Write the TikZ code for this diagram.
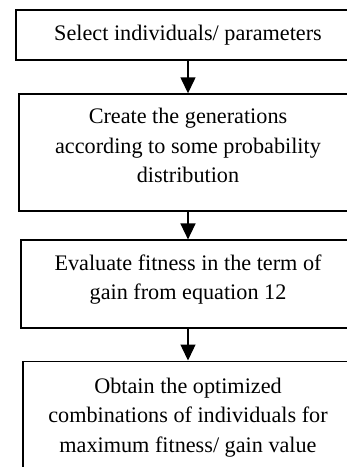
\documentclass[tikz,border=0pt]{standalone}
\usepackage{fontspec}
\setmainfont{Liberation Serif}
\usetikzlibrary{matrix,arrows.meta}

\tikzset{
  stepbox/.style={draw, line width=1.6pt, align=center, inner sep=0pt,
    font=\fontsize{22.2}{29.5}\selectfont},
  flowarrow/.style={-{Triangle[length=16pt,width=15pt]}, line width=1.4pt}
}

\begin{document}
\begin{tikzpicture}[x=1pt,y=-1pt]
      \useasboundingbox (0,0) rectangle (347,467);
      \clip (0,0) rectangle (347,467);
      \matrix (m) [inner sep=0pt, anchor=north] at (188,9)
      { \node[stepbox, minimum width=344pt, minimum height=50pt] (sel) {Select individuals/ parameters}; \\[32.5pt]
        \node[stepbox, minimum width=338pt, minimum height=117pt, text depth=14pt] (gen) {Create the generations\\according to some probability\\distribution}; \\[27.5pt]
        \node[stepbox, minimum width=334pt, minimum height=88pt, text depth=14pt] (fit) {Evaluate fitness in the term of\\gain from equation 12}; \\[31.5pt]
        \node[stepbox, minimum width=330pt, minimum height=112pt] (opt) {Obtain the optimized\\combinations of individuals for\\maximum fitness/ gain value}; \\};
      \path[flowarrow] (sel) edge (gen);
      \path[flowarrow] (gen) edge (fit);
      \path[flowarrow] (fit) edge (opt);
    \end{tikzpicture}
\end{document}
